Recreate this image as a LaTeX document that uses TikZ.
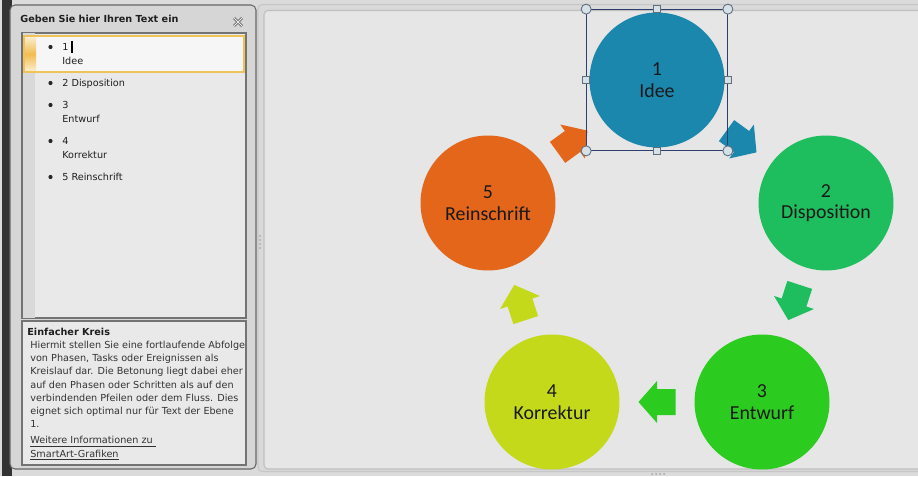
\documentclass[tikz,border=0pt]{standalone}
\usepackage{fontspec}
\usetikzlibrary{calc,fit}
\newfontfamily\uifont{DejaVu Sans}
\newfontfamily\shapefont{Carlito}

\definecolor{ideeblue}{HTML}{1B87AD}
\definecolor{dispgreen}{HTML}{1EBE5E}
\definecolor{entwgreen}{HTML}{2BCB1F}
\definecolor{korryellow}{HTML}{C4D91A}
\definecolor{reinorange}{HTML}{E3661B}
\definecolor{canvasbg}{HTML}{E6E6E6}
\definecolor{panelbg}{HTML}{D6D6D6}
\definecolor{boxbg}{HTML}{E9E9E9}
\definecolor{stripbg}{HTML}{D9D9D9}
\definecolor{selnavy}{HTML}{2E3F6E}
\definecolor{handlefill}{HTML}{D5E1E7}
\definecolor{handledraw}{HTML}{5F6F80}
\definecolor{hilite}{HTML}{F0C35A}

\tikzset{
	phase/.style={circle, fill=#1, minimum size=2.7cm, inner sep=0pt, align=center,
		font=\shapefont\fontsize{11.3}{12.2}\selectfont, text=black!90},
	uitext/.style={anchor=base west, inner sep=0pt, text=black!88,
		font=\uifont\fontsize{5.5}{7.4}\selectfont},
	uibold/.style={uitext, font=\uifont\bfseries\fontsize{5.5}{7.4}\selectfont},
	selbox/.style={draw=selnavy, line width=0.6pt, inner sep=0.05cm},
	roundhandle/.style={fill=handlefill, draw=handledraw, line width=0.5pt},
	squarehandle/.style={rectangle, fill=handlefill, draw=handledraw, line width=0.5pt,
		minimum size=0.15cm, inner sep=0pt},
	blockarrow/.pic={\fill[#1] (-18.5,-13) -- (0,-13) -- (0,-21) -- (18.5,0)
		-- (0,21) -- (0,13) -- (-18.5,13) -- cycle;}
}

\begin{document}
\begin{tikzpicture}[x=0.02cm,y=-0.02cm]
	\useasboundingbox (0,0) rectangle (918,476);
	\clip (0,0) rectangle (918,476);
	\fill[stripbg!95!white] (0,0) rectangle (918,476);
	\fill[black!80] (2,0) rectangle (12,476);

	% text pane
	\filldraw[fill=panelbg, draw=black!60, line width=0.6pt, rounded corners=0.1cm] (10,5) rectangle (256,469);
	\node[uibold] (title) at (20,22.5) {Geben Sie hier Ihren Text ein};
	\draw[black!60, line width=1.6pt] (234,18) -- (242,26) (234,26) -- (242,18);
	\draw[white!85!gray, line width=0.5pt] (234,18) -- (242,26) (234,26) -- (242,18);

	\filldraw[fill=boxbg, draw=black!55, line width=0.6pt] (22,33) rectangle (246,318);
	\fill[stripbg] (22.5,33.5) rectangle (35,317.5);
	\fill[white!60!boxbg] (24,36) rectangle (244,72);
	\shade[top color=hilite!25, bottom color=hilite!25, middle color=hilite!90!orange] (24,36) rectangle (36,72);
	\draw[hilite, line width=0.6pt] (24,36) rectangle (244,72);

	\foreach \y in {47,83,105,141,177}
		\fill[black!85] (50.5,\y) circle (0.042cm);
	\node[uitext] (item1) at (62,50.5) {1};
	\node[uitext] (item1b) at (62,64.5) {Idee};
	\draw[black, line width=0.6pt] (72,41) -- (72,53);
	\node[uitext] (item2) at (62,86.5) {2 Disposition};
	\node[uitext] (item3) at (62,108.5) {3};
	\node[uitext] (item3b) at (62,122.5) {Entwurf};
	\node[uitext] (item4) at (62,144.5) {4};
	\node[uitext] (item4b) at (62,158.5) {Korrektur};
	\node[uitext] (item5) at (62,180.5) {5 Reinschrift};

	% description
	\filldraw[fill=boxbg, draw=black!55, line width=0.6pt] (22,321) rectangle (246,465);
	\node[uibold] (desctitle) at (27,335.5) {Einfacher Kreis};
	\foreach \txt [count=\i from 0] in {{Hiermit stellen Sie eine fortlaufende Abfolge},
		{von Phasen, Tasks oder Ereignissen als},
		{Kreislauf dar. Die Betonung liegt dabei eher},
		{auf den Phasen oder Schritten als auf den},
		{verbindenden Pfeilen oder dem Fluss. Dies},
		{eignet sich optimal nur für Text der Ebene},
		{1.}}
		\node[uitext, text=black!80] (desc\i) at (30,348.5+13.2*\i) {\txt};
	\node[uitext, text=black!80] (link1) at (30,443.5) {\underline{Weitere Informationen zu\ }};
	\node[uitext, text=black!80] (link2) at (30,457) {\underline{SmartArt-Grafiken}};

	% drawing canvas
	\filldraw[fill=stripbg, draw=black!22, line width=0.6pt, rounded corners=0.08cm] (258,4.5) rectangle (940,471.5);
	\filldraw[fill=canvasbg, draw=black!25, line width=0.6pt, rounded corners=0.08cm] (264,10.5) rectangle (940,469);
	\foreach \y in {236,240,244,248}
		\fill[black!35] (260,\y) circle (0.02cm);
	\foreach \x in {652,656,660,664}
		\fill[black!35] (\x,474) circle (0.02cm);

	% cycle
	\node[phase=ideeblue] (p1) at (657,80) {1\\Idee};
	\node[phase=dispgreen] (p2) at (826,203) {2\\Disposition};
	\node[phase=entwgreen] (p3) at (762,402) {3\\Entwurf};
	\node[phase=korryellow] (p4) at (552,402) {4\\Korrektur};
	\node[phase=reinorange] (p5) at (488,203) {5\\Reinschrift};

	\pic[rotate=-36] at ($(p1)!0.5!(p2)$) {blockarrow=ideeblue};
	\pic[rotate=-108] at ($(p2)!0.5!(p3)$) {blockarrow=dispgreen};
	\pic[rotate=180] at ($(p3)!0.5!(p4)$) {blockarrow=entwgreen};
	\pic[rotate=108] at ($(p4)!0.5!(p5)$) {blockarrow=korryellow};
	\pic[rotate=36] at ($(p5)!0.5!(p1)$) {blockarrow=reinorange};

	% selection of shape 1
	\node[selbox, fit=(p1)] (sel) {};
	\foreach \a in {north west,north east,south west,south east}
		\filldraw[roundhandle] (sel.\a) circle (0.1cm);
	\foreach \a in {north,south,west,east}
		\node[squarehandle] at (sel.\a) {};
\end{tikzpicture}
\end{document}
